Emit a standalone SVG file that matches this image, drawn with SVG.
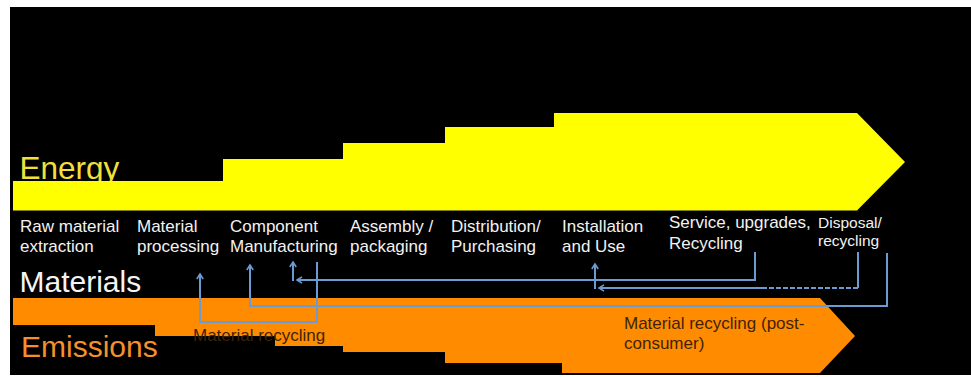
<svg xmlns="http://www.w3.org/2000/svg" width="971" height="377" viewBox="0 0 971 377">
  <style>
    .lbl { font-family: "Liberation Sans", Arial, sans-serif; font-size: 17px; fill: #f2f2f2; }
    .lbl-sm { font-family: "Liberation Sans", Arial, sans-serif; font-size: 15.5px; fill: #f2f2f2; }
    .big { font-family: "Liberation Sans", Arial, sans-serif; font-size: 30px; }
    .inband { font-family: "Liberation Sans", Arial, sans-serif; font-size: 17px; fill: #3f2306; }
    .conn { fill: none; stroke: #6b9bd2; stroke-width: 2; }
    .dash { stroke-dasharray: 5 2; }
  </style>
  <defs>
    <marker id="head" markerWidth="10" markerHeight="10" refX="6" refY="4" orient="auto" markerUnits="userSpaceOnUse">
      <path d="M1,0.8 L6,4 L1,7.2" fill="none" stroke="#6b9bd2" stroke-width="1.6"/>
    </marker>
  </defs>

  <!-- backdrop -->
  <rect x="10" y="7" width="961" height="368" fill="#000"/>

  <!-- energy band -->
  <g id="energy">
    <text class="big" x="19.5" y="179" fill="#f2e03a" style="font-size:31.5px">Energy</text>
    <path d="M13,181 H223 V159 H343 V143 H445 V127 H554 V113 H857 L905,162 L857,210.5 H13 Z" fill="#ffff00"/>
  </g>

  <!-- life-cycle stages -->
  <g id="stage-raw">
    <text class="lbl" x="20" y="232">Raw material</text>
    <text class="lbl" x="20" y="252">extraction</text>
  </g>
  <g id="stage-processing">
    <text class="lbl" x="137" y="232">Material</text>
    <text class="lbl" x="137" y="252">processing</text>
  </g>
  <g id="stage-component">
    <text class="lbl" x="230" y="232">Component</text>
    <text class="lbl" x="230" y="252">Manufacturing</text>
  </g>
  <g id="stage-assembly">
    <text class="lbl" x="350" y="232">Assembly /</text>
    <text class="lbl" x="350" y="252">packaging</text>
  </g>
  <g id="stage-distribution">
    <text class="lbl" x="451" y="232">Distribution/</text>
    <text class="lbl" x="451" y="252">Purchasing</text>
  </g>
  <g id="stage-use">
    <text class="lbl" x="562" y="232">Installation</text>
    <text class="lbl" x="562" y="252">and Use</text>
  </g>
  <g id="stage-service">
    <text class="lbl" x="669" y="228">Service, upgrades,</text>
    <text class="lbl" x="669" y="249">Recycling</text>
  </g>
  <g id="stage-disposal">
    <text class="lbl-sm" x="818" y="228">Disposal/</text>
    <text class="lbl-sm" x="818" y="246">recycling</text>
  </g>

  <!-- materials band -->
  <g id="materials">
    <text class="big" x="19.5" y="292" fill="#f4f4f4">Materials</text>
    <path d="M13,298 H820 L855,336 L820,373 H562 V363 H445 V352 H343 V346 H275 V336 H155 V325 H13 Z" fill="#ff8c00"/>
  </g>

  <g id="recycling-pre">
    <text class="inband" x="193" y="341">Material recycling</text>
  </g>
  <g id="recycling-post">
    <text class="inband" x="624" y="329">Material recycling (post-</text>
    <text class="inband" x="624" y="349">consumer)</text>
  </g>

  <!-- emissions label -->
  <g id="emissions">
    <text class="big" x="21" y="357" fill="#f5902c">Emissions</text>
  </g>

  <!-- recycling loops -->
  <g id="connectors">
    <path class="conn" d="M317,262 V322 H200 V274" marker-end="url(#head)"/>
    <path class="conn" d="M887,253 V306 H250 V265" marker-end="url(#head)"/>
    <path class="conn" d="M755,252 V280 H297" marker-end="url(#head)"/>
    <path class="conn" d="M293,281 V262" marker-end="url(#head)"/>
    <path class="conn" d="M858,252 V288"/>
    <path class="conn dash" d="M858,288 H762"/>
    <path class="conn" d="M762,288 H599" marker-end="url(#head)"/>
    <path class="conn" d="M595,289 V264" marker-end="url(#head)"/>
  </g>
</svg>
